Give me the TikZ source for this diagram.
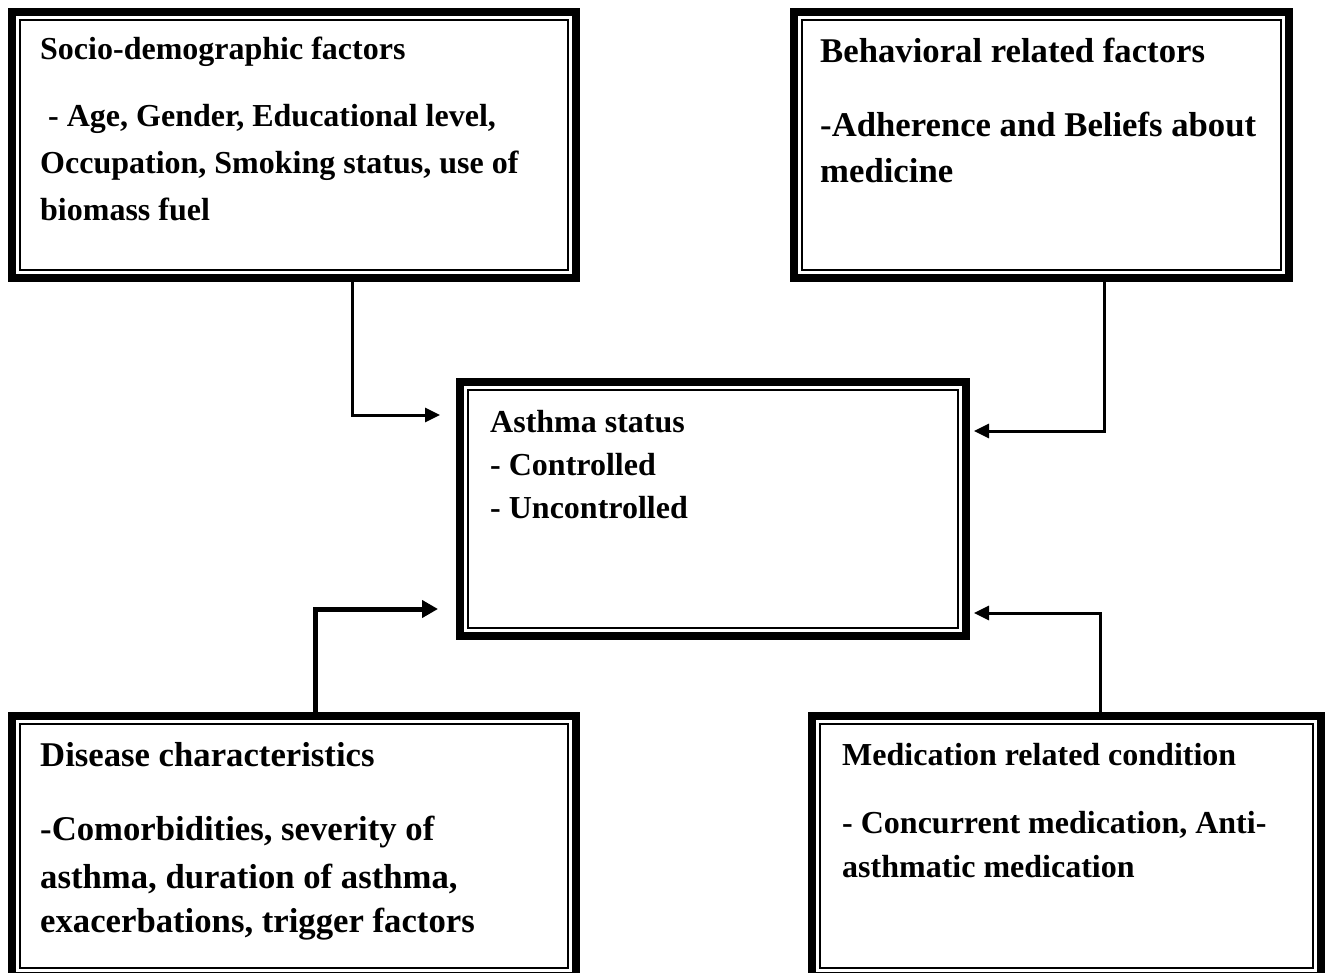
\documentclass[tikz,border=0pt]{standalone}
\usepackage{fontspec}
\setmainfont{Liberation Serif}
\usetikzlibrary{arrows.meta,calc}
\begin{document}
\begin{tikzpicture}[x=1pt,y=-1pt,
  frame/.style={draw,line width=8pt,outer sep=0pt,inner sep=0pt,anchor=north west},
  innerline/.style={line width=1.5pt},
  txt/.style={anchor=base west,inner sep=0pt,font=\bfseries\fontsize{32}{38}\selectfont},
  txtL/.style={anchor=base west,inner sep=0pt,font=\bfseries\fontsize{34.7}{40}\selectfont},
  conn/.style={line width=3pt,-{Triangle[length=15pt,width=14pt]}},
  connT/.style={line width=5pt,-{Triangle[length=16pt,width=17pt]}}]
\useasboundingbox (0,0) rectangle (1325,973);
% boxes (node boundary = centre of thick stroke)
\node[frame,minimum width=564pt,minimum height=266pt] (soc) at (12,12) {};
\node[frame,minimum width=495pt,minimum height=266pt] (beh) at (794,12) {};
\node[frame,minimum width=506pt,minimum height=254pt] (ast) at (460,382) {};
\node[frame,minimum width=564pt,minimum height=260pt] (dis) at (12,716) {};
\node[frame,minimum width=509pt,minimum height=260pt] (med) at (812,716) {};
\foreach \b in {soc,beh,ast,dis,med}
  \draw[innerline] ([shift={(8pt,-8pt)}]\b.north west) rectangle ([shift={(-8pt,8pt)}]\b.south east);
% texts
\node[txt] (s0) at (40,60) {Socio-demographic factors};
\node[txt] (s1) at (40,127) {\hspace{0.25em}- Age, Gender, Educational level,};
\node[txt] (s2) at (40,174) {Occupation, Smoking status, use of};
\node[txt] (s3) at (40,221) {biomass fuel};
\node[txtL] (b0) at (820,63) {Behavioral related factors};
\node[txtL] (b1) at (820,137) {-Adherence and Beliefs about};
\node[txtL] (b2) at (820,183) {medicine};
\node[txt] (a0) at (490,432) {Asthma status};
\node[txt] (a1) at (490,475) {- Controlled};
\node[txt] (a2) at (490,518) {- Uncontrolled};
\node[txtL] (d0) at (40,766) {Disease characteristics};
\node[txtL] (d1) at (40,840) {-Comorbidities, severity of};
\node[txtL] (d2) at (40,888) {asthma, duration of asthma,};
\node[txtL] (d3) at (40,932) {exacerbations, trigger factors};
\node[txt] (m0) at (842,765) {Medication related condition};
\node[txt] (m1) at (842,833) {- Concurrent medication, Anti-};
\node[txt] (m2) at (842,877) {asthmatic medication};
% connectors
\coordinate (j1) at (352,415);
\coordinate (j2) at (1104,431);
\coordinate (j3) at (315,609);
\coordinate (j4) at (1100,613);
\draw[conn,shorten >=20pt] (soc.south -| j1) |- (j1 -| ast.west);
\draw[conn,shorten >=8pt] (beh.south -| j2) |- (j2 -| ast.east);
\draw[connT,shorten >=22pt] (dis.north -| j3) |- (j3 -| ast.west);
\draw[conn,shorten >=8pt] (med.north -| j4) |- (j4 -| ast.east);
\end{tikzpicture}
\end{document}
